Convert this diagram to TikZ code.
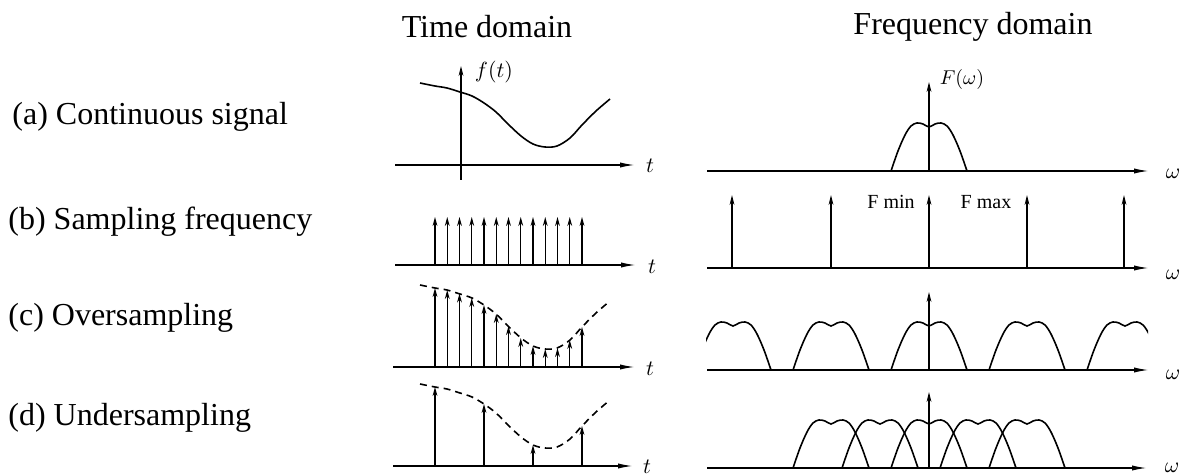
\documentclass[tikz,border=0pt]{standalone}
\usepackage{fontspec}
\setmainfont{Liberation Serif}
\usetikzlibrary{arrows.meta}
\newcommand\mycurve[1]{\draw[#1] plot[smooth,tension=0.55] coordinates {(420,-82) (435,-79) (447,-77) (460,-73) (472,-69) (484,-62) (496,-53) (508,-41) (521,-29) (533,-21) (545,-18) (557,-19) (570,-27) (582,-40) (596,-54) (610,-66)};}
\newcommand\myspec[1]{\draw[specline,shift={(#1,0)}] plot[smooth,tension=0.55] coordinates {(-38,0) (-31,-20) (-24,-36) (-18,-45) (-12,-48) (-6,-47) (0,-44) (6,-47) (12,-48) (18,-45) (24,-36) (31,-20) (38,0)};}
\begin{document}
\begin{tikzpicture}[x=0.5pt,y=-0.5pt,
  haxis/.style={line width=0.9pt,-{Latex[length=8pt,width=2.6pt]}},
  vaxis/.style={line width=0.6pt,-{Stealth[length=5pt,width=2.4pt]}},
  imp/.style={line width=0.6pt,-{Stealth[length=4.5pt,width=2.4pt]}},
  fimp/.style={line width=0.6pt,-{Stealth[length=5pt,width=2.4pt]}},
  sigline/.style={line width=0.8pt},
  dashline/.style={line width=0.8pt,dash pattern=on 3.5pt off 2.5pt},
  specline/.style={line width=0.8pt},
  head/.style={font=\fontsize{16}{18}\selectfont},
  rowlabel/.style={font=\fontsize{16}{18}\selectfont,anchor=west,inner sep=0pt},
  small/.style={font=\fontsize{10}{12}\selectfont,inner sep=0pt},
  lbl/.style={font=\fontsize{11}{12}\selectfont,inner sep=0pt},
]
\useasboundingbox (0,0) rectangle (1184,476);

% headings
\node[head] (th) at (487,27) {Time domain};
\node[head] (fh) at (973,27) {Frequency domain};

% row labels
\node[rowlabel] (la) at (12,117) {(a) Continuous signal};
\node[rowlabel] (lb) at (8,222) {(b) Sampling frequency};
\node[rowlabel] (lc) at (8,318) {(c) Oversampling};
\node[rowlabel] (ld) at (8,418) {(d) Undersampling};

% ---------- time domain ----------
% (a)
\begin{scope}[shift={(0,165)}]
  \coordinate (ta0) at (395,0); \coordinate (ta1) at (636,0);
  \coordinate (tv0) at (461,15); \coordinate (tv1) at (461,-99);
  \draw[haxis] (ta0) -- (ta1);
  \draw[vaxis] (tv0) -- (tv1);
  \mycurve{sigline}
  \node[lbl] (ft) at (494,-93) {$f(t)$};
  \node[lbl] (tla) at (650,1) {$t$};
\end{scope}
% (b)
\begin{scope}[shift={(0,265)}]
  \coordinate (tb0) at (395,0); \coordinate (tb1) at (637,0);
  \draw[haxis] (tb0) -- (tb1);
  \foreach \i in {0,...,12}{
    \draw[imp] (435+12.25*\i,0) -- (435+12.25*\i,-48);
  }
  \node[lbl] (tlb) at (652,2) {$t$};
\end{scope}
% (c)
\begin{scope}[shift={(0,367)}]
  \coordinate (tc0) at (393,0); \coordinate (tc1) at (636,0);
  \draw[haxis] (tc0) -- (tc1);
  \mycurve{dashline}
  \foreach \x/\h in {435/79,447.25/77,459.5/73.5,471.75/69,484/62,496.25/53,508.5/41,520.75/29,533/21,545.25/18,557.5/19,569.75/27,582/40}{
    \draw[imp] (\x,0) -- (\x,-\h);
  }
  \node[lbl] (tlc) at (650,2) {$t$};
\end{scope}
% (d)
\begin{scope}[shift={(0,466)}]
  \coordinate (td0) at (393,0); \coordinate (td1) at (634,0);
  \draw[haxis] (td0) -- (td1);
  \mycurve{dashline}
  \foreach \x/\h in {435/79,484/62,533/21,582/40}{
    \draw[imp] (\x,0) -- (\x,-\h);
  }
  \node[lbl] (tld) at (647,1) {$t$};
\end{scope}

% ---------- frequency domain ----------
% (a)
\begin{scope}[shift={(0,171)}]
  \coordinate (fa0) at (707,0); \coordinate (fa1) at (1150,0);
  \coordinate (fv0) at (929,0); \coordinate (fv1) at (929,-89);
  \draw[haxis] (fa0) -- (fa1);
  \draw[vaxis] (fv0) -- (fv1);
  \myspec{929}
  \node[small] (Fw) at (962,-91) {$F(\omega)$};
  \node[lbl] (wa) at (1173,3) {$\omega$};
\end{scope}
% (b)
\begin{scope}[shift={(0,268)}]
  \coordinate (fb0) at (707,0); \coordinate (fb1) at (1150,0);
  \draw[haxis] (fb0) -- (fb1);
  \foreach \x in {732,831,929,1027,1124}{
    \draw[fimp] (\x,0) -- (\x,-73);
  }
  \node[small] (fmin) at (891,-66) {F min};
  \node[small] (fmax) at (986,-66) {F max};
  \node[lbl] (wb) at (1173,7) {$\omega$};
\end{scope}
% (c)
\begin{scope}[shift={(0,370)}]
  \coordinate (fc0) at (707,0); \coordinate (fc1) at (1150,0);
  \coordinate (fcv0) at (929,0); \coordinate (fcv1) at (929,-78);
  \draw[haxis] (fc0) -- (fc1);
  \draw[vaxis] (fcv0) -- (fcv1);
  \begin{scope}
    \clip (706,-80) rectangle (1148,2);
    \foreach \c in {733,831,929,1027,1125}{ \myspec{\c} }
  \end{scope}
  \node[lbl] (wc) at (1173,5) {$\omega$};
\end{scope}
% (d)
\begin{scope}[shift={(0,468)}]
  \coordinate (fd0) at (707,0); \coordinate (fd1) at (1148,0);
  \coordinate (fdv0) at (929,0); \coordinate (fdv1) at (929,-76);
  \draw[haxis] (fd0) -- (fd1);
  \draw[vaxis] (fdv0) -- (fdv1);
  \foreach \c in {831,880,929,978,1027}{ \myspec{\c} }
  \node[lbl] (wd) at (1172,0) {$\omega$};
\end{scope}
\end{tikzpicture}
\end{document}
